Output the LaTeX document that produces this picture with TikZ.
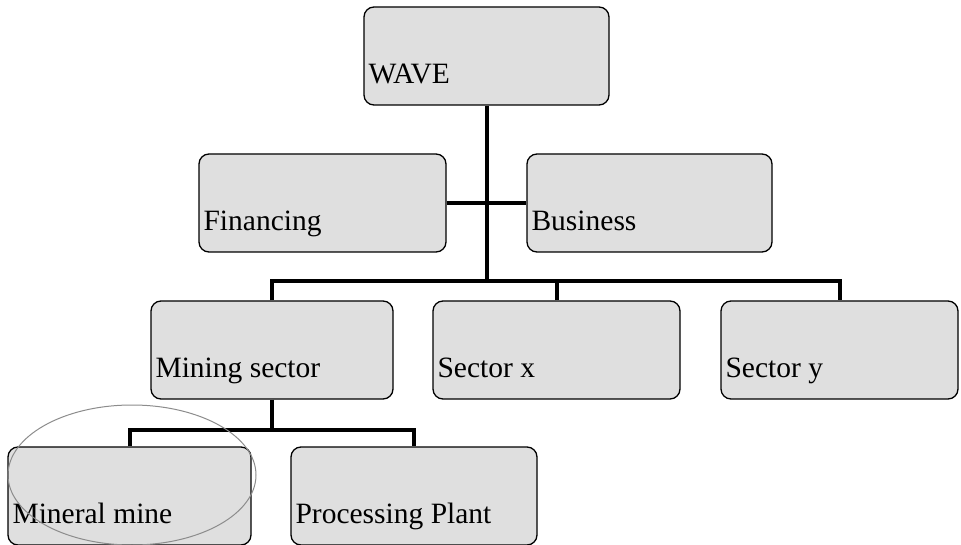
\documentclass[tikz,border=0pt]{standalone}
\usepackage{fontspec}
\setmainfont{Liberation Serif}
\usepackage{tikz}

\definecolor{boxgray}{HTML}{DFDFDF}
\definecolor{ringgray}{HTML}{8C8C8C}

\tikzset{
  unit/.style={rectangle, rounded corners=10pt, draw=black, line width=1.3pt,
    fill=boxgray, minimum height=98pt, inner sep=0pt},
  lbl/.style={anchor=base west, xshift=5pt, yshift=22pt, inner sep=0pt,
    font=\fontsize{29.5}{33}\selectfont},
  link/.style={line width=4pt, line join=miter}
}

\begin{document}
\begin{tikzpicture}[x=1pt, y=-1pt]
			\useasboundingbox (0,0) rectangle (961,545);
			% Nodes
			\node[unit, minimum width=245pt, label={[lbl]south west:WAVE}] (wave) at (486.5,56) {};
			\node[unit, minimum width=247pt, label={[lbl]south west:Financing}] (fin) at (322.5,203) {};
			\node[unit, minimum width=245pt, label={[lbl]south west:Business}] (bus) at (649.5,203) {};
			\node[unit, minimum width=242pt, label={[lbl]south west:Mining sector}] (mining) at (272,350) {};
			\node[unit, minimum width=247pt, label={[lbl]south west:Sector x}] (secx) at (556.5,350) {};
			\node[unit, minimum width=237pt, label={[lbl]south west:Sector y}] (secy) at (839.5,350) {};
			\node[unit, minimum width=243pt, label={[lbl]south west:Mineral mine}] (mineral) at (129.5,496) {};
			\node[unit, minimum width=246pt, label={[lbl]south west:Processing Plant}] (plant) at (414,496) {};
			\coordinate (hub) at (wave.south |- 0,281);
			\coordinate (split) at (mining.south |- 0,430);
			
			% Edges
			\draw[link] (wave.south) -- (hub);
			\draw[link] (fin.east) -- (bus.west);
			\draw[link] (mining.north) |- (hub) -| (secy.north);
			\draw[link] (secx.north) -- (secx.north |- hub);
			\draw[link] (mining.south) -- (split);
			\draw[link] (mineral.north) |- (split) -| (plant.north);
			
			% Highlight
			\draw[ringgray, line width=1pt] (132,475) ellipse [x radius=124, y radius=70];
		\end{tikzpicture}
\end{document}
